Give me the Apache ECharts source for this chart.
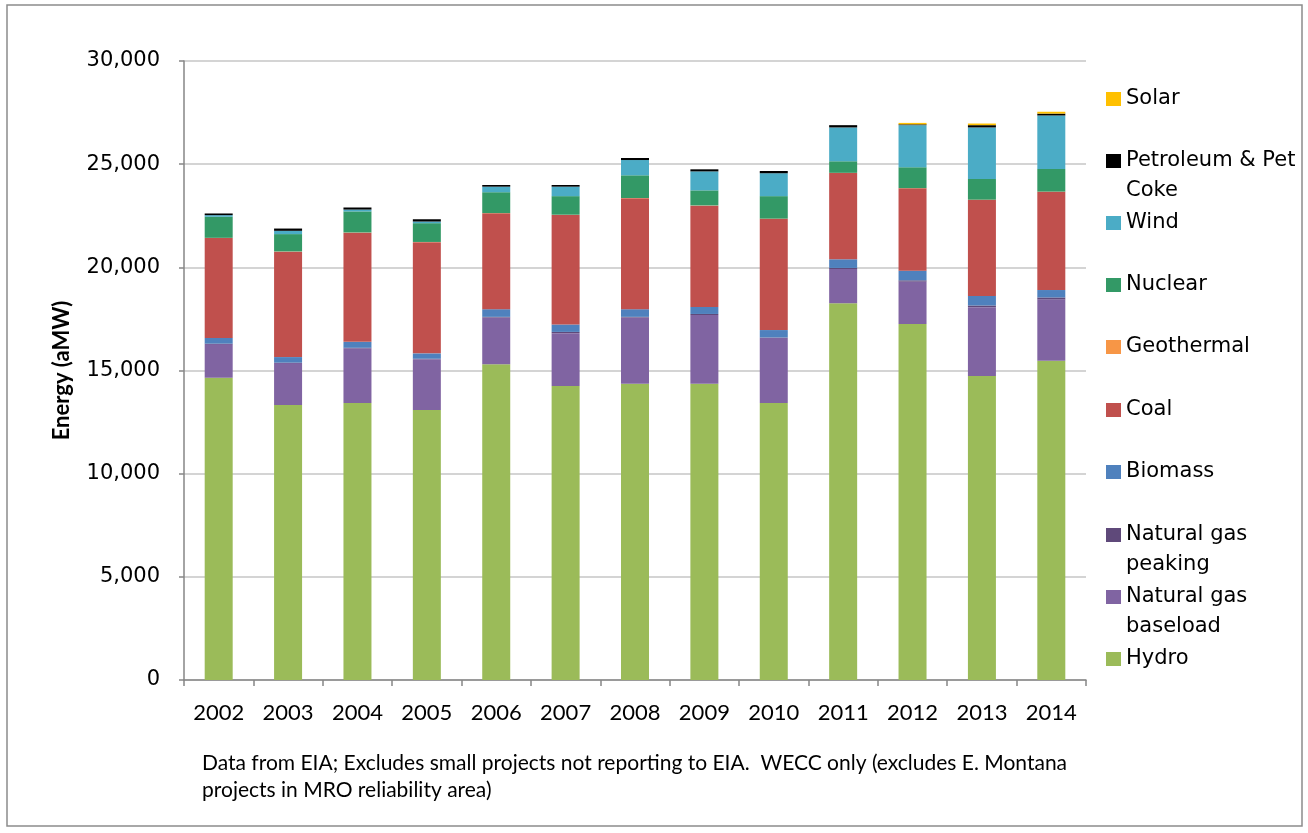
<!DOCTYPE html>
<html>
<head>
<meta charset="utf-8">
<script src="https://cdn.jsdelivr.net/npm/echarts@6/dist/echarts.min.js"></script>
<style>
    html, body { margin: 0; padding: 0; background: #fff; }
    #main { width: 1308px; height: 833px; }
</style>
</head>
<body>
<div id="main"></div>
<script>
// categories
var years = ['2002', '2003', '2004', '2005', '2006', '2007', '2008', '2009', '2010', '2011', '2012', '2013', '2014'];

// series values (aMW)
var hydro      = [14650, 13330, 13430, 13090, 15300, 14250, 14360, 14360, 13430, 18260, 17250, 14730, 15470];
var ngBaseload = [1630, 2030, 2650, 2460, 2270, 2560, 3210, 3330, 3150, 1660, 2060, 3340, 2980];
var ngPeaking  = [20, 20, 20, 20, 30, 60, 30, 50, 20, 50, 60, 80, 90];
var biomass    = [280, 270, 290, 260, 370, 360, 370, 340, 360, 420, 470, 460, 360];
var coal       = [4840, 5110, 5290, 5390, 4650, 5310, 5380, 4910, 5390, 4180, 3990, 4660, 4760];
var geothermal = [10, 10, 10, 10, 10, 10, 10, 10, 10, 10, 10, 10, 10];
var nuclear    = [1020, 840, 1020, 910, 1010, 900, 1100, 730, 1090, 560, 1010, 1000, 1100];
var wind       = [80, 160, 90, 80, 270, 460, 740, 920, 1110, 1640, 2040, 2500, 2590];
var petroleum  = [80, 110, 100, 110, 80, 80, 100, 100, 110, 110, 40, 110, 90];
var solar      = [0, 0, 0, 0, 0, 0, 0, 0, 0, 0, 70, 80, 90];

// y tick labels
var yMin = 0, yMax = 30000, yStep = 5000;

var note = 'Data from EIA; Excludes small projects not reporting to EIA.  WECC only (excludes E. Montana\nprojects in MRO reliability area)';

// bottom to top
var stack = [
    { name: 'Hydro', data: hydro, color: '#9BBB59' },
    { name: 'Natural gas baseload', label: 'Natural gas\nbaseload', data: ngBaseload, color: '#8064A2' },
    { name: 'Natural gas peaking', label: 'Natural gas\npeaking', data: ngPeaking, color: '#5F497A' },
    { name: 'Biomass', data: biomass, color: '#4F81BD' },
    { name: 'Coal', data: coal, color: '#C0504D' },
    { name: 'Geothermal', data: geothermal, color: '#F79646' },
    { name: 'Nuclear', data: nuclear, color: '#339966' },
    { name: 'Wind', data: wind, color: '#4BACC6' },
    { name: 'Petroleum & Pet Coke', label: 'Petroleum & Pet\nCoke', data: petroleum, color: '#000000' },
    { name: 'Solar', data: solar, color: '#FFC000' }
];

// legend icon centre (y) for each entry, from Solar down to Hydro
var legendY = { 'Solar': 99, 'Petroleum & Pet Coke': 161, 'Wind': 223, 'Nuclear': 285, 'Geothermal': 347,
    'Coal': 410, 'Biomass': 472, 'Natural gas peaking': 535, 'Natural gas baseload': 597, 'Hydro': 659 };

var myChart = echarts.init(document.getElementById('main'));

var legends = stack.map(function (s) {
    var twoLines = !!s.label;
    return {
        orient: 'vertical',
        left: 1106,
        top: legendY[s.name] - (twoLines ? 45 : 15),
        padding: 0,
        itemWidth: 15,
        itemHeight: 14,
        icon: 'rect',
        selectedMode: false,
        data: [s.name],
        formatter: function (n) {
            // blank first line keeps the icon level with the first text line
            return twoLines ? '\n' + s.label : n;
        },
        textStyle: {
            fontFamily: 'DejaVu Sans',
            fontSize: 21,
            color: '#000',
            lineHeight: 30
        }
    };
});

myChart.setOption({
    backgroundColor: '#fff',
    animation: false,
    title: {
        text: note,
        left: 202,
        top: 750,
        padding: 0,
        textStyle: {
            fontFamily: 'Lato',
            fontSize: 21,
            fontWeight: 'normal',
            color: '#000',
            lineHeight: 27
        }
    },
    legend: legends,
    graphic: [{
        type: 'rect',
        shape: { x: 7, y: 5, width: 1295, height: 821 },
        style: { fill: 'none', stroke: '#8c8c8c', lineWidth: 1.5 },
        silent: true
    }],
    grid: {
        left: 184,
        right: 1308 - 1086,
        top: 61,
        bottom: 833 - 680
    },
    xAxis: {
        type: 'category',
        data: years,
        axisLine: { lineStyle: { color: '#868686', width: 1.5 } },
        axisTick: { show: true, length: 6, lineStyle: { color: '#868686', width: 1.5 } },
        axisLabel: {
            margin: 22,
            fontFamily: 'Lato',
            fontSize: 22,
            color: '#000'
        },
        splitLine: { show: false }
    },
    yAxis: {
        type: 'value',
        min: yMin,
        max: yMax,
        interval: yStep,
        name: 'Energy (aMW)',
        nameLocation: 'middle',
        nameRotate: 90,
        nameGap: 111,
        nameTextStyle: {
            fontFamily: 'Lato',
            fontWeight: 'bold',
            fontSize: 22,
            color: '#000'
        },
        axisLine: { show: true, lineStyle: { color: '#868686', width: 1.5 } },
        axisTick: { show: true, length: 5, lineStyle: { color: '#868686', width: 1.5 } },
        axisLabel: {
            margin: 24,
            fontFamily: 'DejaVu Sans',
            fontSize: 21,
            color: '#000',
            formatter: function (v) { return v.toLocaleString('en-US'); }
        },
        splitLine: { show: true, lineStyle: { color: '#d4d4d4', width: 2 } }
    },
    series: stack.map(function (s) {
        return {
            name: s.name,
            type: 'bar',
            stack: 'total',
            barWidth: 28,
            data: s.data,
            itemStyle: { color: s.color }
        };
    })
});
</script>
</body>
</html>
